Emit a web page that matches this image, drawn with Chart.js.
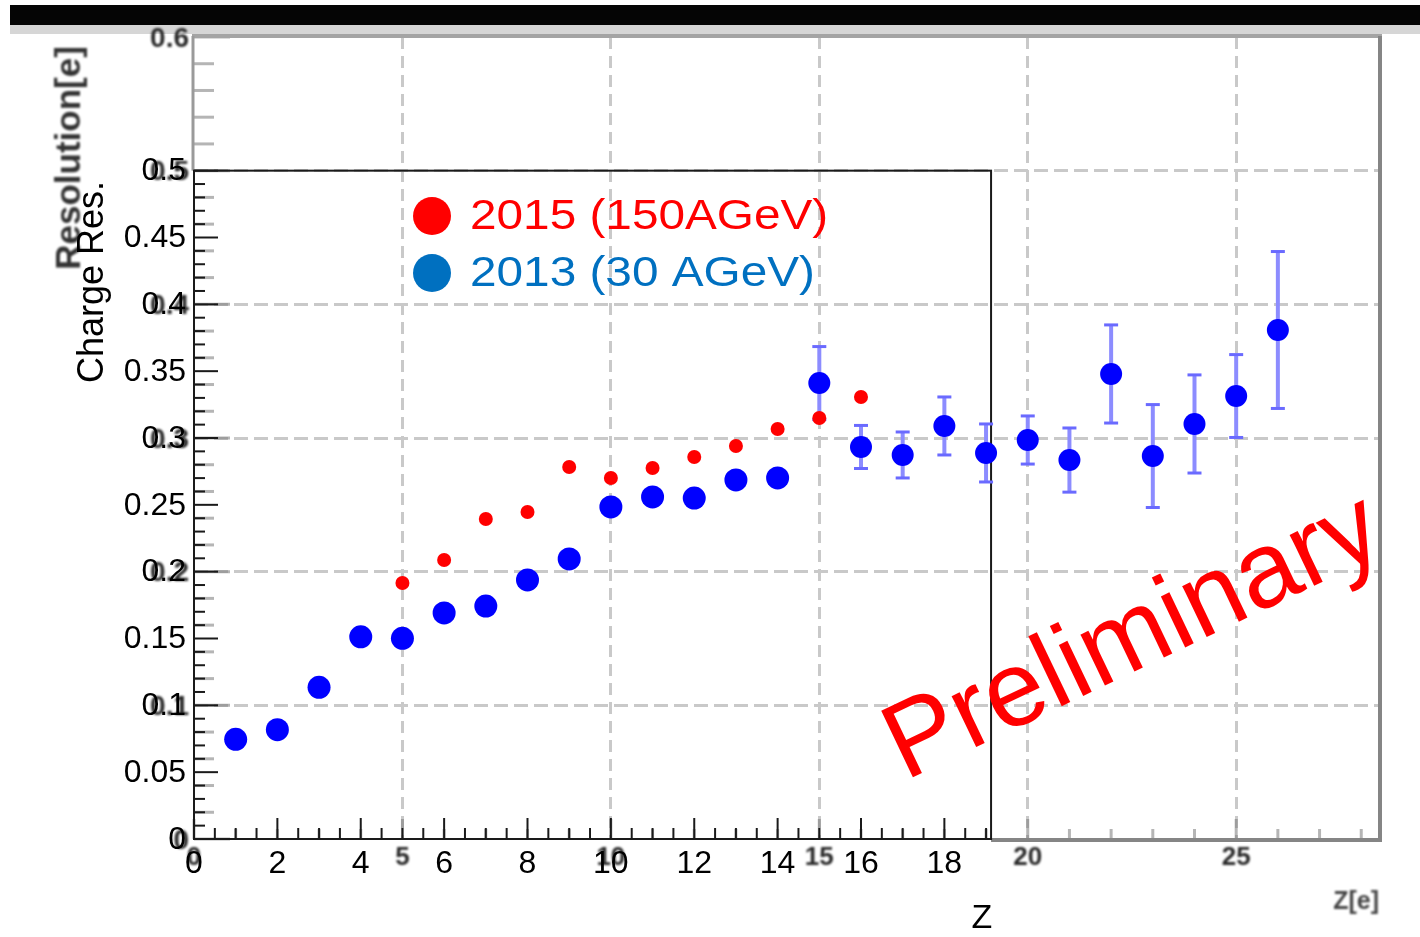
<!DOCTYPE html>
<html>
<head>
<meta charset="utf-8">
<script src="https://cdn.jsdelivr.net/npm/chart.js@4.4.1/dist/chart.umd.min.js"></script>
<style>
  html, body { margin: 0; padding: 0; background: #fff; }
  #wrap { width: 1420px; height: 937px; }
</style>
</head>
<body>
<div id="wrap"><canvas id="resChart" width="1420" height="937"></canvas></div>
<script>
// 2015 test beam (150 AGeV), red dots
const z2015 = [5, 6, 7, 8, 9, 10, 11, 12, 13, 14, 15, 16, 17];
const res2015 = [0.1915, 0.2087, 0.2394, 0.2446, 0.2783, 0.2701, 0.2776, 0.2858, 0.2940, 0.3067, 0.3150, 0.3307, 0.2850];

// 2013 test beam (30 AGeV), blue dots of the front panel
const z2013 = [1, 2, 3, 4, 5, 6, 7, 8, 9, 10, 11, 12, 13, 14];
const res2013 = [0.0746, 0.0818, 0.1135, 0.1513, 0.1501, 0.1691, 0.1743, 0.1938, 0.2095, 0.2484, 0.2559, 0.2551, 0.2686, 0.2701];

// 2013, points of the plot underneath (with errors)
const zBack = [15, 16, 17, 18, 19, 20, 21, 22, 23, 24, 25, 26];
const resBack = [0.3411, 0.2933, 0.2873, 0.3090, 0.2888, 0.2985, 0.2835, 0.3479, 0.2865, 0.3105, 0.3314, 0.3808];
const errBack = [0.0273, 0.0161, 0.0172, 0.0217, 0.0217, 0.0180, 0.0240, 0.0367, 0.0385, 0.0367, 0.0310, 0.0587];

// tick labels
const frontYLabels = ['0', '0.05', '0.1', '0.15', '0.2', '0.25', '0.3', '0.35', '0.4', '0.45', '0.5'];
const frontXLabels = ['0', '2', '4', '6', '8', '10', '12', '14', '16', '18'];
const backYLabels = ['0', '0.1', '0.2', '0.3', '0.4', '0.5', '0.6'];
const backXLabels = ['0', '5', '10', '15', '20', '25'];

const X_MAX = 28.45;      // range of the underlying plot
const Y_MAX = 0.6;
const FRONT_X_MAX = 19.12; // front panel box
const FRONT_Y_MAX = 0.5;

const FONT = '"Liberation Sans", Arial, sans-serif';

function line(ctx, x1, y1, x2, y2) {
  ctx.beginPath();
  ctx.moveTo(x1, y1);
  ctx.lineTo(x2, y2);
  ctx.stroke();
}

const overlay = {
  id: 'overlay',
  beforeDatasetsDraw(chart) {
    const ctx = chart.ctx;
    const xs = chart.scales.x, ys = chart.scales.y;
    const left = xs.getPixelForValue(0), right = xs.getPixelForValue(X_MAX);
    const top = ys.getPixelForValue(Y_MAX), bottom = ys.getPixelForValue(0);
    const fRight = xs.getPixelForValue(FRONT_X_MAX), fTop = ys.getPixelForValue(FRONT_Y_MAX);
    ctx.save();

    // header bar
    ctx.fillStyle = '#050505';
    ctx.fillRect(10, 5, 1410, 20);
    ctx.fillStyle = '#d6d6d6';
    ctx.fillRect(10, 25, 1410, 9);

    // underlying plot: frame and ticks (grey)
    ctx.strokeStyle = 'rgba(120,120,120,0.55)';
    ctx.lineWidth = 3;
    for (let i = 0; i <= 28; i++) {
      const x = xs.getPixelForValue(i);
      line(ctx, x, bottom, x, bottom - (i % 5 === 0 ? 20 : 10));
    }
    for (let k = 0; k <= 30; k++) {
      const y = ys.getPixelForValue(k * 0.02);
      line(ctx, left, y, left + (k % 5 === 0 ? 36 : 20), y);
    }
    ctx.strokeStyle = '#a4a4a4';
    ctx.lineWidth = 4;
    line(ctx, left - 2, top - 1, right + 2, top - 1);
    ctx.strokeStyle = '#858585';
    line(ctx, right, top - 1, right, bottom + 2);
    line(ctx, fRight, bottom + 1, right + 2, bottom + 1);
    ctx.strokeStyle = '#9a9a9a';
    ctx.lineWidth = 3;
    line(ctx, left - 1, top - 1, left - 1, fTop);

    // underlying plot: blurry bold labels
    ctx.filter = 'blur(1.2px)';
    ctx.fillStyle = '#2a2a2a';
    ctx.font = 'bold 28px ' + FONT;
    ctx.textAlign = 'right';
    ctx.textBaseline = 'middle';
    backYLabels.forEach(t => {
      ctx.fillText(t, left - 5, ys.getPixelForValue(parseFloat(t)) + 2);
    });
    ctx.textAlign = 'center';
    ctx.textBaseline = 'top';
    ctx.font = 'bold 26px ' + FONT;
    backXLabels.forEach(t => {
      ctx.fillText(t, xs.getPixelForValue(parseFloat(t)), bottom + 6);
    });
    ctx.font = 'bold 25px ' + FONT;
    ctx.fillStyle = '#444';
    ctx.textAlign = 'right';
    ctx.fillText('Z[e]', right - 1, 890);
    ctx.save();
    ctx.translate(70, 158);
    ctx.rotate(-Math.PI / 2);
    ctx.textAlign = 'center';
    ctx.textBaseline = 'middle';
    ctx.font = 'bold 35px ' + FONT;
    ctx.fillStyle = '#333';
    ctx.fillText('Resolution[e]', 0, 0);
    ctx.restore();
    ctx.filter = 'none';

    // front panel: box and ticks
    ctx.strokeStyle = '#1a1a1a';
    ctx.lineWidth = 2;
    ctx.strokeRect(left, fTop, fRight - left, bottom - fTop);
    line(ctx, left, bottom, fRight, bottom);
    for (let k = 0; k <= 50; k++) {
      const y = ys.getPixelForValue(k * 0.01);
      line(ctx, left, y, left + (k % 5 === 0 ? 24 : 11), y);
    }
    for (let k = 0; k <= 38; k++) {
      const x = xs.getPixelForValue(k * 0.5);
      line(ctx, x, bottom, x, bottom - (k % 4 === 0 ? 21 : 11));
    }

    // front panel: labels
    ctx.fillStyle = '#000';
    ctx.font = '32px ' + FONT;
    ctx.textAlign = 'right';
    ctx.textBaseline = 'middle';
    frontYLabels.forEach(t => {
      ctx.fillText(t, left - 8, ys.getPixelForValue(parseFloat(t)) + 1);
    });
    ctx.textAlign = 'center';
    ctx.textBaseline = 'top';
    frontXLabels.forEach(t => {
      ctx.fillText(t, xs.getPixelForValue(parseFloat(t)), bottom + 9);
    });
    ctx.font = '34px ' + FONT;
    ctx.fillText('Z', 982, 902);
    ctx.save();
    ctx.translate(93, 282);
    ctx.rotate(-Math.PI / 2);
    ctx.textAlign = 'center';
    ctx.textBaseline = 'middle';
    ctx.font = '36px ' + FONT;
    ctx.fillText('Charge Res.', 0, 0);
    ctx.restore();

    // error bars of the underlying points
    zBack.forEach((z, i) => {
      const x = xs.getPixelForValue(z);
      const y1 = ys.getPixelForValue(resBack[i] + errBack[i]);
      const y2 = ys.getPixelForValue(resBack[i] - errBack[i]);
      ctx.strokeStyle = '#8c8cff';
      ctx.lineWidth = 4;
      line(ctx, x, y1, x, y2);
      ctx.strokeStyle = '#6a6aff';
      ctx.lineWidth = 3;
      line(ctx, x - 7, y1, x + 7, y1);
      line(ctx, x - 7, y2, x + 7, y2);
    });
    ctx.restore();
  },
  afterDatasetsDraw(chart) {
    const ctx = chart.ctx;
    ctx.save();
    // legend
    const items = [
      { color: '#ff0000', text: '2015 (150AGeV)', y: 216 },
      { color: '#0070c0', text: '2013 (30 AGeV)', y: 273 }
    ];
    items.forEach(it => {
      ctx.fillStyle = it.color;
      ctx.beginPath();
      ctx.arc(432, it.y, 19, 0, Math.PI * 2);
      ctx.fill();
      ctx.save();
      ctx.translate(470, it.y + 1);
      ctx.scale(1.11, 1);
      ctx.font = '43px ' + FONT;
      ctx.textAlign = 'left';
      ctx.textBaseline = 'middle';
      ctx.fillText(it.text, 0, 0);
      ctx.restore();
    });
    // stamp
    ctx.translate(905, 781);
    ctx.rotate(-25.5 * Math.PI / 180);
    ctx.fillStyle = '#ff0000';
    ctx.font = '107px ' + FONT;
    ctx.textAlign = 'left';
    ctx.textBaseline = 'alphabetic';
    ctx.fillText('Preliminary', 0, 0);
    ctx.restore();
  }
};

function gridColor(values) {
  return c => {
    const v = c.tick ? c.tick.value : NaN;
    return values.some(g => Math.abs(g - v) < 1e-6) ? '#c9c9c9' : 'rgba(0,0,0,0)';
  };
}

new Chart(document.getElementById('resChart'), {
  type: 'scatter',
  data: {
    datasets: [
      {
        label: '2013 underlying',
        data: zBack.map((z, i) => ({ x: z, y: resBack[i] })),
        backgroundColor: '#0000ff',
        pointRadius: 11,
        borderWidth: 0
      },
      {
        label: '2013 (30 AGeV)',
        data: z2013.map((z, i) => ({ x: z, y: res2013[i] })),
        backgroundColor: '#0000ff',
        pointRadius: 11.5,
        borderWidth: 0
      },
      {
        label: '2015 (150AGeV)',
        data: z2015.map((z, i) => ({ x: z, y: res2015[i] })),
        backgroundColor: '#ff0000',
        pointRadius: 7,
        borderWidth: 0
      }
    ]
  },
  options: {
    responsive: false,
    animation: false,
    devicePixelRatio: 1,
    layout: { padding: { left: 194, right: 40, top: 37, bottom: 98 } },
    plugins: { legend: { display: false }, tooltip: { enabled: false } },
    scales: {
      x: {
        type: 'linear',
        min: 0,
        max: X_MAX,
        ticks: { display: false, stepSize: 5 },
        grid: { color: gridColor([5, 10, 15, 20, 25]), lineWidth: 3, drawTicks: false },
        border: { display: false, dash: [12, 7] },
        afterFit: s => { s.height = 0; }
      },
      y: {
        type: 'linear',
        min: 0,
        max: Y_MAX,
        ticks: { display: false, stepSize: 0.1 },
        grid: { color: gridColor([0.1, 0.2, 0.3, 0.4, 0.5]), lineWidth: 3, drawTicks: false },
        border: { display: false, dash: [14, 6] },
        afterFit: s => { s.width = 0; }
      }
    }
  },
  plugins: [overlay]
});
</script>
</body>
</html>
